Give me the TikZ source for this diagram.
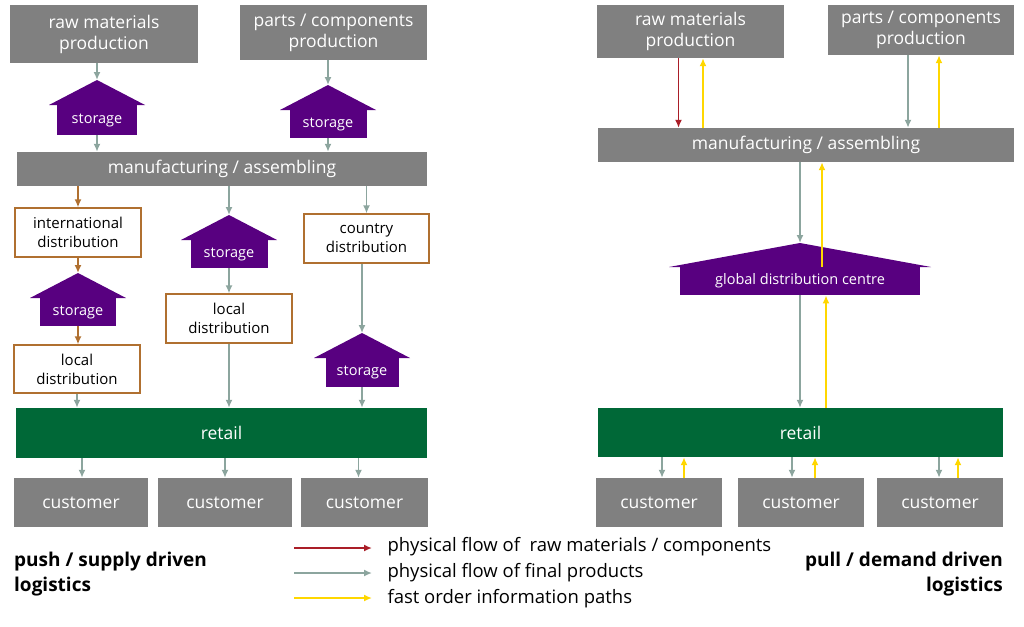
\documentclass[tikz,border=0pt]{standalone}
\usepackage{fontspec}
\setmainfont{Open Sans}
\usetikzlibrary{calc,arrows.meta}
\definecolor{boxgray}{RGB}{128,128,128}
\definecolor{storepurple}{RGB}{88,0,128}
\definecolor{retailgreen}{RGB}{0,104,55}
\definecolor{flowgray}{RGB}{140,165,158}
\definecolor{flowbrown}{RGB}{176,112,48}
\definecolor{flowred}{RGB}{170,30,40}
\definecolor{flowyellow}{RGB}{255,215,0}
\tikzset{
  gbox/.style={fill=boxgray, text=white, align=center, inner sep=0pt, font=\fontsize{17.5}{21}\selectfont},
  wbox/.style={draw=flowbrown, line width=1.2pt, fill=white, align=center, inner sep=0pt, font=\fontsize{15}{19}\selectfont},
  store/.style={fill=storepurple, text=white, inner sep=0pt, font=\fontsize{14.5}{17}\selectfont},
  garrow/.style={flowgray, line width=1.8pt, -{Latex[length=8pt,width=7pt]}},
  barrow/.style={garrow, flowbrown},
  rarrow/.style={garrow, flowred},
  yarrow/.style={garrow, flowyellow},
}
% storage house: name, centre x, rect top y, rect width, rect height, roof half width
\newcommand{\storehouse}[6]{
  \node[store, minimum width=#4, minimum height=#5, anchor=north] (#1) at (#2,#3) {storage};
  \coordinate (#1top) at ($(#1.north)+(0,-25)$);
  \fill[storepurple] ($(#1.north)+(-#6,0)$) -- (#1top) -- ($(#1.north)+(#6,0)$) -- cycle;
}
\begin{document}
\begin{tikzpicture}[x=1pt,y=-1pt]
\useasboundingbox (0,0) rectangle (1024,626);
% push side
\node[gbox, minimum width=188, minimum height=58] (raw) at (104,34) {raw materials\\production};
\node[gbox, minimum width=187, minimum height=55] (parts) at (333.5,32.5) {parts / components\\production};
\storehouse{st1}{97}{105}{80}{30}{48}
\storehouse{st2}{328}{110}{77}{28}{48}
\node[gbox, minimum width=410, minimum height=34] (manu) at (222,169) {manufacturing / assembling};
\node[wbox, minimum width=126, minimum height=49] (intl) at (78,232.5) {international\\distribution};
\storehouse{st3}{229}{240}{77}{28}{48}
\node[wbox, minimum width=125, minimum height=49] (country) at (366.5,238.5) {country\\distribution};
\storehouse{st4}{78}{298}{76}{28}{48}
\node[wbox, minimum width=126, minimum height=49] (locc) at (229,318.5) {local\\distribution};
\node[wbox, minimum width=126, minimum height=48] (locl) at (77,369) {local\\distribution};
\storehouse{st5}{362}{358}{73}{29}{48}
\node[fill=retailgreen, text=white, minimum width=411, minimum height=50, inner sep=0pt, font=\fontsize{17.5}{21}\selectfont] (retail) at (221.5,433) {retail};
\node[gbox, minimum width=134, minimum height=49] (c1) at (81,502.5) {customer};
\node[gbox, minimum width=134, minimum height=49] (c2) at (225,502.5) {customer};
\node[gbox, minimum width=127, minimum height=49] (c3) at (364.5,502.5) {customer};
\draw[garrow] (raw.south -| st1top) -- (st1top);
\draw[garrow] (st1.south) -- (st1.south |- manu.north);
\draw[garrow] (parts.south -| st2top) -- (st2top);
\draw[garrow] (st2.south) -- (st2.south |- manu.north);
\draw[barrow] (manu.south -| intl) -- (intl.north);
\draw[garrow] (manu.south -| st3top) -- (st3top);
\draw[garrow] (manu.south -| country) -- (country.north);
\draw[barrow] (intl.south) -- (st4top);
\draw[barrow] (st4.south) -- (st4.south |- locl.north);
\draw[garrow] (st3.south) -- (locc.north);
\draw[garrow] (country.south -| st5top) -- (st5top);
\draw[garrow] (locl.south) -- (locl.south |- retail.north);
\draw[garrow] (locc.south) -- (locc.south |- retail.north);
\draw[garrow] (st5.south) -- (st5.south |- retail.north);
\draw[garrow] ($(retail.south -| c1)+(1,0)$) -- ($(c1.north)+(1,0)$);
\draw[garrow] (retail.south -| c2) -- (c2.north);
\draw[garrow] ($(retail.south -| c3)+(-6,0)$) -- ($(c3.north)+(-6,0)$);
% pull side
\node[gbox, minimum width=187, minimum height=53] (rawr) at (690.5,31.5) {raw materials\\production};
\node[gbox, minimum width=186, minimum height=50] (partsr) at (921,30) {parts / components\\production};
\node[gbox, minimum width=416, minimum height=34] (manur) at (806,145) {manufacturing / assembling};
\node[store, minimum width=240, minimum height=28, anchor=north] (gdc) at (800,267) {global distribution centre};
\coordinate (gdctop) at ($(gdc.north)+(0,-24)$);
\fill[storepurple] ($(gdc.north)+(-131,0)$) -- (gdctop) -- ($(gdc.north)+(131,0)$) -- cycle;
\node[fill=retailgreen, text=white, minimum width=405, minimum height=49, inner sep=0pt, font=\fontsize{17.5}{21}\selectfont] (retailr) at (800.5,432.5) {retail};
\node[gbox, minimum width=126, minimum height=49] (cr1) at (659,502.5) {customer};
\node[gbox, minimum width=126, minimum height=49] (cr2) at (801,502.5) {customer};
\node[gbox, minimum width=126, minimum height=49] (cr3) at (940,502.5) {customer};
\draw[rarrow] ($(rawr.south)+(-12,0)$) -- ($(manur.north -| rawr)+(-12,0)$);
\draw[yarrow] ($(manur.north -| rawr)+(12.5,0)$) -- ($(rawr.south)+(12.5,0)$);
\draw[garrow] ($(partsr.south)+(-13,0)$) -- ($(manur.north -| partsr)+(-13,0)$);
\draw[yarrow] ($(manur.north -| partsr)+(18,0)$) -- ($(partsr.south)+(18,0)$);
\draw[garrow] (manur.south -| gdctop) -- (gdctop);
\draw[yarrow] ($(gdc.north)+(22,0)$) -- ($(manur.south -| gdc)+(22,0)$);
\draw[garrow] (gdc.south) -- (gdc.south |- retailr.north);
\draw[yarrow] ($(retailr.north -| gdc)+(26,0)$) -- ($(gdc.south)+(26,0)$);
\draw[garrow] ($(retailr.south -| cr1)+(3,0)$) -- ($(cr1.north)+(3,0)$);
\draw[yarrow] ($(cr1.north)+(25,0)$) -- ($(retailr.south -| cr1)+(25,0)$);
\draw[garrow] ($(retailr.south -| cr2)+(-9,0)$) -- ($(cr2.north)+(-9,0)$);
\draw[yarrow] ($(cr2.north)+(14,0)$) -- ($(retailr.south -| cr2)+(14,0)$);
\draw[garrow] ($(retailr.south -| cr3)+(-1,0)$) -- ($(cr3.north)+(-1,0)$);
\draw[yarrow] ($(cr3.north)+(18,0)$) -- ($(retailr.south -| cr3)+(18,0)$);
% legend
\coordinate (l1) at (294,548); \coordinate (l1e) at (372,548);
\coordinate (l2) at (294,573); \coordinate (l2e) at (372,573);
\coordinate (l3) at (294,598); \coordinate (l3e) at (372,598);
\draw[rarrow] (l1) -- (l1e);
\draw[garrow] (l2) -- (l2e);
\draw[yarrow] (l3) -- (l3e);
\node[anchor=west, font=\fontsize{18.5}{22}\selectfont] (t1) at (384,547) {physical flow of\ \ raw materials / components};
\node[anchor=west, font=\fontsize{18.5}{22}\selectfont] (t2) at (384,573) {physical flow of final products};
\node[anchor=west, font=\fontsize{18.5}{22}\selectfont] (t3) at (384,599) {fast order information paths};
\node[anchor=north west, align=left, inner sep=0pt, font=\bfseries\fontsize{19}{25}\selectfont] (push) at (14,552) {push / supply driven\\logistics};
\node[anchor=north east, align=right, inner sep=0pt, font=\bfseries\fontsize{19}{25}\selectfont] (pull) at (1003,552) {pull / demand driven\\logistics};
\end{tikzpicture}
\end{document}
